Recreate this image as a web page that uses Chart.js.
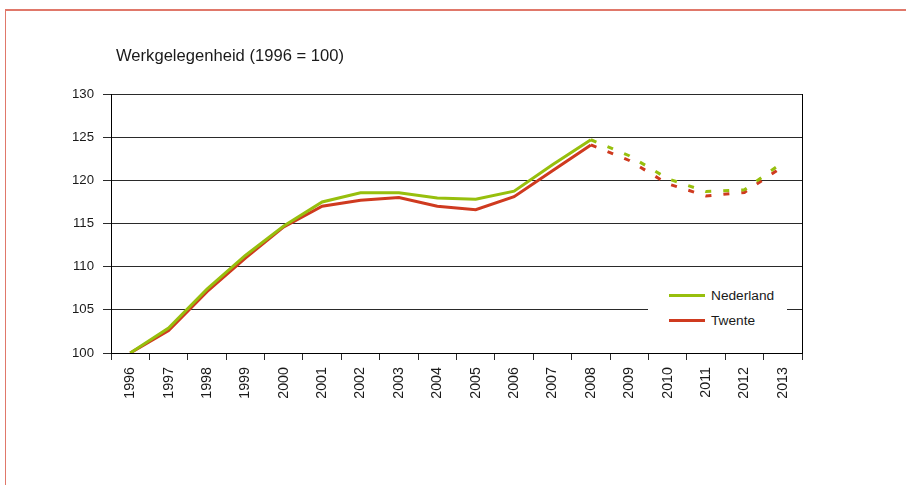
<!DOCTYPE html>
<html lang="nl">
<head>
<meta charset="utf-8">
<title>Werkgelegenheid</title>
<script src="https://cdn.jsdelivr.net/npm/chart.js@4.4.1/dist/chart.umd.min.js"></script>
<style>
  html, body { margin: 0; padding: 0; background: #ffffff; }
  body { width: 906px; height: 485px; position: relative; overflow: hidden; font-family: 'Liberation Sans', Arial, sans-serif; }
  #frame { position: absolute; left: 5px; top: 9px; width: 1000px; height: 600px; border-top: 2px solid #e0786a; border-left: 1px solid #e0786a; }
  #chartBox { position: absolute; left: 0; top: 0; width: 906px; height: 485px; }
  #chartTitle { position: absolute; left: 116px; top: 46px; font-size: 16.6px; color: #1a1a1a; white-space: nowrap; }
  #legend { position: absolute; left: 648px; top: 283px; width: 139px; height: 52px; background: #ffffff; }
  .legend-item { position: absolute; left: 21px; font-size: 13.7px; color: #1a1a1a; white-space: nowrap; }
  .legend-item span { display: inline-block; width: 36px; height: 3px; vertical-align: middle; margin-right: 6px; position: relative; top: -1px; }
</style>
</head>
<body>
<div id="frame"></div>
<div id="chartBox"><canvas id="jobsChart" width="906" height="485"></canvas></div>
<div id="chartTitle">Werkgelegenheid (1996 = 100)</div>
<div id="legend"></div>

<script>
// Years on the x axis
const years = ['1996', '1997', '1998', '1999', '2000', '2001', '2002', '2003', '2004',
  '2005', '2006', '2007', '2008', '2009', '2010', '2011', '2012', '2013'];

// Employment index, 1996 = 100 (values after 2008 are forecasts, drawn dashed)
const nederland = [100, 102.9, 107.4, 111.3, 114.7, 117.5, 118.55, 118.55, 117.95,
  117.8, 118.75, 121.8, 124.7, 122.85, 120.2, 118.7, 118.9, 122.1];
const twente = [100, 102.6, 107.1, 111.0, 114.6, 117.0, 117.7, 118.0, 117.0,
  116.6, 118.1, 121.1, 124.1, 122.3, 119.6, 118.2, 118.6, 121.6];

// Index of the last measured year; later segments are forecasts
const lastActual = 12;

// Y axis range and step
const yMin = 100;
const yMax = 130;
const yStep = 5;

const COLORS = {
  nederland: '#97bf0d',
  twente: '#cf3a1f',
  grid: '#2a2a2a',
  text: '#1a1a1a',
};

/**
 * Draw the right-hand border of the plot area
 */
const frameRight = {
  id: 'frameRight',
  afterDraw(chart) {
    const { ctx, chartArea } = chart;
    ctx.save();
    ctx.strokeStyle = '#000000';
    ctx.lineWidth = 1;
    ctx.beginPath();
    ctx.moveTo(chartArea.right + 0.5, chartArea.top);
    ctx.lineTo(chartArea.right + 0.5, chartArea.bottom);
    ctx.stroke();
    ctx.restore();
  },
};

/**
 * Build one line dataset
 */
function makeSeries(label, data, color) {
  return {
    label: label,
    data: data,
    borderColor: color,
    backgroundColor: color,
    borderWidth: 3,
    pointRadius: 0,
    tension: 0,
    fill: false,
    segment: {
      borderDash: (ctx) => (ctx.p0DataIndex >= lastActual ? [6, 12] : undefined),
    },
  };
}

/**
 * Render the legend as plain html
 */
function renderLegend(items) {
  const box = document.getElementById('legend');
  box.innerHTML = items
    .map(
      (it, i) => `<div class="legend-item" style="top:${5 + i * 25}px"><span style="background:${it.color}"></span>${it.label}</div>`
    )
    .join('');
}

/**
 * Create the chart
 */
function initChart() {
  const ctx = document.getElementById('jobsChart').getContext('2d');

  new Chart(ctx, {
    type: 'line',
    data: {
      labels: years,
      datasets: [
        makeSeries('Nederland', nederland, COLORS.nederland),
        makeSeries('Twente', twente, COLORS.twente),
      ],
    },
    options: {
      responsive: false,
      animation: false,
      layout: { padding: { left: 0, right: 104, top: 94, bottom: 0 } },
      plugins: {
        legend: { display: false },
        tooltip: { enabled: false },
      },
      scales: {
        x: {
          offset: true,
          afterFit: (scale) => { scale.height = 132; },
          grid: { display: true, drawOnChartArea: false, drawTicks: true, tickLength: 7, color: COLORS.grid, offset: true },
          border: { color: '#000000', width: 1 },
          ticks: {
            minRotation: 90,
            maxRotation: 90,
            autoSkip: false,
            padding: 7,
            color: COLORS.text,
            font: { family: "'Liberation Sans', Arial, sans-serif", size: 14.3 },
          },
        },
        y: {
          min: yMin,
          max: yMax,
          afterFit: (scale) => { scale.width = 111; },
          grid: { color: COLORS.grid, lineWidth: 1, tickLength: 8 },
          border: { color: '#000000', width: 1 },
          ticks: {
            stepSize: yStep,
            padding: 9,
            color: COLORS.text,
            font: { family: "'Liberation Sans', Arial, sans-serif", size: 13.2 },
          },
        },
      },
    },
    plugins: [frameRight],
  });

  renderLegend([
    { label: 'Nederland', color: COLORS.nederland },
    { label: 'Twente', color: COLORS.twente },
  ]);
}

initChart();
</script>
</body>
</html>
